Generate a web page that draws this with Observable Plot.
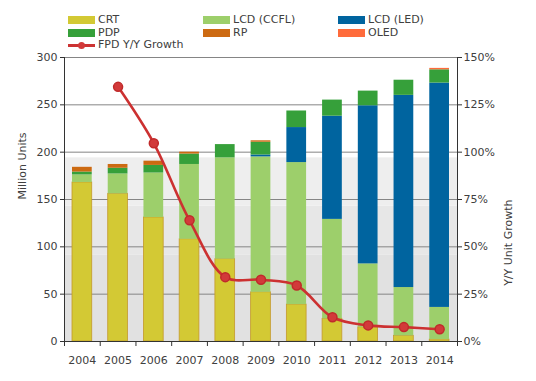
<!DOCTYPE html>
<html>
<head>
<meta charset="utf-8">
<script src="https://cdn.jsdelivr.net/npm/d3@7"></script>
<script src="https://cdn.jsdelivr.net/npm/@observablehq/plot@0.6"></script>
<style>
  html, body { margin: 0; padding: 0; background: #fff; }
  body { width: 536px; height: 381px; overflow: hidden; font-family: "DejaVu Sans", Verdana, sans-serif; }
  #legend { position: relative; width: 536px; height: 48px; font-size: 11px; color: #404040; }
  .item { position: absolute; height: 12px; line-height: 12px; white-space: nowrap; }
  .sw { position: absolute; left: 0; top: 2px; width: 27px; height: 8px; }
  .lbl { position: absolute; left: 30px; top: 0; }
  .ln { position: absolute; left: 0; top: 5px; width: 27px; height: 3px; background: #cc3333; }
  .dt { position: absolute; left: 10px; top: 3px; width: 7px; height: 7px; border-radius: 50%; background: #d23a3a; }
  #chart svg { display: block; overflow: visible; }
</style>
</head>
<body>
<div id="legend"></div>
<div id="chart"></div>
<script>
// ---- data ----
const years  = [2004, 2005, 2006, 2007, 2008, 2009, 2010, 2011, 2012, 2013, 2014];
const crt    = [168, 156, 131, 108, 87, 52, 39, 24, 15, 6, 2];
const ccfl   = [8, 21, 47, 79, 107, 143, 150, 105, 67, 51, 34];
const led    = [0, 0, 0, 0, 0, 2, 37, 109, 167, 203, 237];
const pdp    = [3, 6, 8, 11, 14, 13.5, 17.5, 17, 15.5, 16, 14];
const rp     = [5, 4, 4.5, 2, 0, 1.5, 0, 0, 0, 0, 0];
const oled   = [0, 0, 0, 0, 0, 0, 0, 0, 0, 0, 1.5];
const growth = [null, 134.5, 104.7, 64, 34, 32.6, 29.6, 12.8, 8.5, 7.6, 6.5]; // percent
const seriesNames = ["CRT", "LCD (CCFL)", "LCD (LED)", "PDP", "RP", "OLED"];
const seriesColors = ["#d3c934", "#9dcf6b", "#00649f", "#36a03a", "#cc6a12", "#ff6b3b"];
const leftTicks = [0, 50, 100, 150, 200, 250, 300];
const rightTicks = ["0%", "25%", "50%", "75%", "100%", "125%", "150%"];
const backdrop = [
  {y1: 0, y2: 91, fill: "#e1e1e1"},
  {y1: 91, y2: 143, fill: "#e7e7e7"},
  {y1: 143, y2: 194, fill: "#eeeeee"}
];

// ---- table ----
const seriesValues = [crt, ccfl, led, pdp, rp, oled];
const long = [];
years.forEach((yr, i) => {
  seriesNames.forEach((s, k) => long.push({year: yr, series: s, value: seriesValues[k][i]}));
});
const lineData = years.map((yr, i) => ({year: yr, g: growth[i]})).filter(d => d.g != null);

// ---- legend ----
const legend = document.getElementById("legend");
const cols = [68, 203, 338];
const rows = [14, 27, 39];
seriesNames.forEach((s, k) => {
  const el = document.createElement("div");
  el.className = "item";
  el.style.left = cols[k % 3] + "px";
  el.style.top = rows[Math.floor(k / 3)] + "px";
  el.innerHTML = `<div class="sw" style="background:${seriesColors[k]}"></div><div class="lbl">${s}</div>`;
  legend.appendChild(el);
});
{
  const el = document.createElement("div");
  el.className = "item";
  el.style.left = cols[0] + "px";
  el.style.top = rows[2] + "px";
  el.innerHTML = `<div class="ln"></div><div class="dt"></div><div class="lbl">FPD Y/Y Growth</div>`;
  legend.appendChild(el);
}

// ---- chart ----
const x0 = years[0], x1 = years[years.length - 1] + 1;
const chart = Plot.plot({
  width: 536,
  height: 333,
  marginTop: 9,
  marginBottom: 40,
  marginLeft: 64,
  marginRight: 79,
  style: {fontFamily: "DejaVu Sans, Verdana, sans-serif", fontSize: "11px", color: "#404040", background: "transparent"},
  x: {domain: [x0, x1]},
  y: {domain: [0, 300]},
  color: {domain: seriesNames, range: seriesColors},
  marks: [
    Plot.rectY(backdrop, {x1: x0, x2: x1, y1: "y1", y2: "y2", fill: "fill"}),
    Plot.gridY(leftTicks, {stroke: "#858585", strokeOpacity: 1}),
    Plot.rectY(long, {
      x1: "year", x2: d => d.year + 1, y: "value", fill: "series",
      insetLeft: 8, insetRight: 8,
      stroke: {value: d => d.series === "CRT" ? "#c49a2c" : "none", scale: null},
      strokeWidth: 0.8
    }),
    Plot.line(lineData, {x: d => d.year + 0.5, y: d => d.g * 2, stroke: "#cc3131", strokeWidth: 2.6, curve: "catmull-rom"}),
    Plot.dot(lineData, {x: d => d.year + 0.5, y: d => d.g * 2, r: 4.5, fill: "#d23a3a", stroke: "#c02a2a"}),
    Plot.ruleY([0], {stroke: "#333"}),
    Plot.ruleX([x0, x1], {stroke: "#333"}),
    Plot.axisX({ticks: d3.range(x0, x1 + 1), tickFormat: () => "", tickSize: 5, stroke: "#333", label: null}),
    Plot.axisX({ticks: years.map(y => y + 0.5), tickFormat: d => String(d - 0.5), tickSize: 0, tickPadding: 15, label: null, fill: "#404040"}),
    Plot.axisY({anchor: "left", ticks: leftTicks, tickSize: 4, tickPadding: 3, label: null, fill: "#404040", stroke: "#333"}),
    Plot.axisY({anchor: "right", ticks: leftTicks, tickFormat: (d, i) => rightTicks[leftTicks.indexOf(d)], tickSize: 4, tickPadding: 2, label: null, fill: "#404040", stroke: "#333"}),
    Plot.text(["Million Units"], {frameAnchor: "left", rotate: -90, dx: -42, fill: "#404040", fontSize: 11}),
    Plot.text(["Y/Y Unit Growth"], {frameAnchor: "right", rotate: -90, dx: 51, fill: "#404040", fontSize: 11})
  ]
});
document.getElementById("chart").appendChild(chart);
</script>
</body>
</html>
